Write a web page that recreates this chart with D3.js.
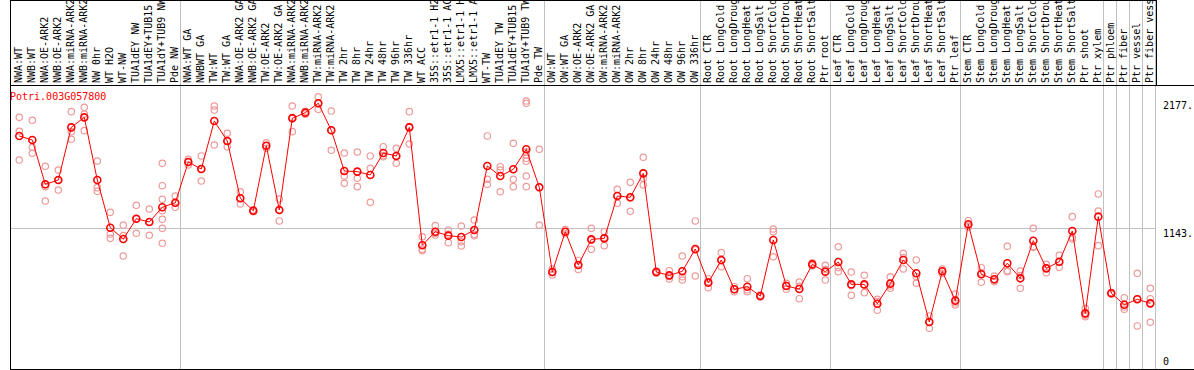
<!DOCTYPE html>
<html>
<head>
<meta charset="utf-8">
<script src="https://cdn.jsdelivr.net/npm/d3@7"></script>
<style>
  body { margin: 0; background: #fff; }
  svg { display: block; }
  text { font-family: "DejaVu Sans Mono", monospace; font-size: 10px; }
</style>
</head>
<body>
<svg width="1194" height="370"></svg>
<script>
// sample names, in column order
const labels = [
  "NWA:WT","NWB:WT","NWA:OE-ARK2","NWB:OE-ARK2","NWA:miRNA-ARK2","NWB:miRNA-ARK2","NW 0hr","WT H2O","WT-NW","TUA1dEY NW","TUA1dEY+TUB15 NW","TUA1dY+TUB9 NW","Pde NW",
  "NWA:WT GA","NWBWT GA","TW:WT","TW:WT GA","NWA:OE-ARK2 GA","NWB:OE-ARK2 GA","TW:OE-ARK2","TW:OE-ARK2 GA","NWA:miRNA-ARK2 GA","NWB:miRNA-ARK2 GA","TW:miRNA-ARK2","TW:miRNA-ARK2 GA","TW 2hr","TW 8hr","TW 24hr","TW 48hr","TW 96hr","TW 336hr","WT ACC","35S::etr1-1 H2O","35S::etr1-1 ACC","LMX5::etr1-1 H2O","LMX5::etr1-1 ACC","WT-TW","TUA1dEY TW","TUA1dEY+TUB15 TW","TUA1dY+TUB9 TW","Pde TW",
  "OW:WT","OW:WT GA","OW:OE-ARK2","OW:OE-ARK2 GA","OW:miRNA-ARK2","OW:miRNA-ARK2 GA","OW 2hr","OW 8hr","OW 24hr","OW 48hr","OW 96hr","OW 336hr",
  "Root CTR","Root LongCold","Root LongDrought","Root LongHeat","Root LongSalt","Root ShortCold","Root ShortDrought","Root ShortHeat","Root ShortSalt","Ptr root",
  "Leaf CTR","Leaf LongCold","Leaf LongDrought","Leaf LongHeat","Leaf LongSalt","Leaf ShortCold","Leaf ShortDrought","Leaf ShortHeat","Leaf ShortSalt","Ptr leaf",
  "Stem CTR","Stem LongCold","Stem LongDrought","Stem LongHeat","Stem LongSalt","Stem ShortCold","Stem ShortDrought","Stem ShortHeat","Stem ShortSalt","Ptr shoot","Ptr xylem",
  "Ptr phloem","Ptr fiber","Ptr vessel","Ptr fiber vessel"
];

// column index where a new group starts (gray separators)
const groupBreaks = [13, 41, 53, 63, 73, 84, 85, 86, 87, 88];

// mean expression per sample
const means = [
  1889,1856,1497,1532,1959,2040,1532,1145,1054,1218,1192,1311,1348,
  1678,1621,2010,1848,1384,1283,1810,1289,2032,2078,2154,1935,1605,1600,1573,1751,1727,1959,1003,1113,1081,1070,1127,1646,1564,1619,1781,1473,
  786,1113,843,1051,1059,1402,1392,1586,786,759,792,973,
  700,884,646,667,592,1046,673,648,848,789,
  867,686,686,529,692,884,776,381,792,554,
  1173,768,727,857,735,1040,816,870,1119,451,1235,
  614,521,565,532
];

// replicate values per sample
const reps = [
  [2040,1927,1694],[2016,1797,1749],[1643,1478,1362],[1613,1532,1451],[2086,1924,1862],[2121,2067,1932],
  [1686,1470,1440],[1270,1094,1059],[1167,1081,916],[1327,1218,1100],[1297,1192,1084],
  [1667,1486,1376,1283,1213,1140,1019],[1402,1343,1311],
  [1700,1678,1654],[1727,1621,1524],[2132,2099,1816],[1911,1848,1802],[1437,1384,1338],[1290,1283,1275],
  [1834,1810,1790],[1378,1289,1200],[2132,2040,1924],[2090,2078,2066],[2207,2150,2105],[2091,1935,1773],
  [1751,1564,1505],[1759,1546,1478],[1727,1627,1351],[1802,1730,1720],[1789,1727,1667],[2086,1965,1824],
  [1072,970,959],[1162,1100,1086],[1127,1092,1024],[1159,1032,997],[1208,1092,1081],[1889,1538,1497],
  [1640,1613,1437],[1830,1538,1478],[2172,2154,1760,1735,1708,1685,1564,1478],[1781,1473,1167],
  [810,786,762],[1130,1113,1096],[880,843,806],[1140,1045,970],[1113,1065,1000],[1456,1407,1343],
  [1513,1386,1278],[1716,1546,1492],[795,786,777],[797,750,730],[916,748,721],[1200,965,754],
  [732,709,659],[943,880,829],[667,645,627],[732,642,627],[600,592,584],[1135,1113,910],
  [695,678,646],[705,670,570],[860,848,836],[840,806,721],
  [991,822,789],[786,676,597],[759,680,619],[565,546,476],[748,673,654],[938,903,811],
  [884,749,695],[430,383,330],[810,792,775],[608,535,519],
  [1202,1165,1152],[821,780,703],[754,720,708],[995,797,789],[794,757,654],[1140,994,986],
  [848,819,781],[921,865,824],[1235,1068,1054],[492,437,424],[1419,1281,1000],
  [620,608],[578,502,484],[776,570,349],[654,570,379]
];

const geneId = "Potri.003G057800";
const yTicks = [2177, 1143, 0];

const svg = d3.select("svg");
const headerH = 85;
const bottom = 369;

const x = d3.scaleBand().domain(d3.range(labels.length)).range([11, 1155]).padding(0);
const y = d3.scaleLinear().domain([0, 1143]).range([bottom, 228]);
const px = i => x(i) + 8.3;

// gridline at the middle tick
svg.append("line")
  .attr("x1", 10).attr("x2", x.range()[1] + 0.5)
  .attr("y1", Math.round(y(1143)) + 0.5).attr("y2", Math.round(y(1143)) + 0.5)
  .attr("stroke", "#c0c0c0");

// group separators
svg.append("g").selectAll("line")
  .data(groupBreaks)
  .join("line")
  .attr("x1", d => x(d - 1) + x.bandwidth() + 0.5)
  .attr("x2", d => x(d - 1) + x.bandwidth() + 0.5)
  .attr("y1", 0).attr("y2", bottom)
  .attr("stroke", "#c0c0c0");

// header labels
svg.append("clipPath").attr("id", "hdr")
  .append("rect").attr("x", 0).attr("y", 1).attr("width", 1194).attr("height", headerH - 1);

svg.append("g").attr("clip-path", "url(#hdr)")
  .selectAll("text")
  .data(labels)
  .join("text")
  .attr("transform", (d, i) => "translate(" + (x(i) + 11) + "," + (headerH - 2) + ") rotate(-90)")
  .attr("fill", "#000")
  .text(d => d);

// borders
svg.append("line").attr("x1", 10.5).attr("x2", 10.5).attr("y1", 0).attr("y2", 370).attr("stroke", "#000");
svg.append("line").attr("x1", 10).attr("x2", 1157).attr("y1", 0.5).attr("y2", 0.5).attr("stroke", "#000");
svg.append("line").attr("x1", 1156.5).attr("x2", 1156.5).attr("y1", 0).attr("y2", headerH).attr("stroke", "#000");
svg.append("line").attr("x1", 10).attr("x2", 1194).attr("y1", headerH + 0.5).attr("y2", headerH + 0.5).attr("stroke", "#000");
svg.append("line").attr("x1", 10).attr("x2", 1194).attr("y1", bottom + 0.5).attr("y2", bottom + 0.5).attr("stroke", "#000");

// replicates
const repPts = [];
reps.forEach((r, i) => r.forEach(v => repPts.push({ i: i, v: v })));
svg.append("g").selectAll("circle")
  .data(repPts)
  .join("circle")
  .attr("cx", d => px(d.i))
  .attr("cy", d => y(d.v))
  .attr("r", 3.2)
  .attr("fill", "none")
  .attr("stroke", "#ee9a9a")
  .attr("stroke-width", 1.2);

// mean line
const line = d3.line().x((d, i) => px(i)).y(d => y(d));
svg.append("path")
  .datum(means)
  .attr("d", line)
  .attr("fill", "none")
  .attr("stroke", "#ff0000")
  .attr("stroke-width", 1);

svg.append("g").selectAll("circle")
  .data(means)
  .join("circle")
  .attr("cx", (d, i) => px(i))
  .attr("cy", d => y(d))
  .attr("r", 3.5)
  .attr("fill", "none")
  .attr("stroke", "#ff0000")
  .attr("stroke-width", 1.6);

// gene id
svg.append("text")
  .attr("x", 10).attr("y", 100)
  .attr("fill", "#ff0000")
  .text(geneId);

// value labels on the right
svg.append("g").selectAll("text")
  .data(yTicks)
  .join("text")
  .attr("x", 1163)
  .attr("y", d => d === 0 ? bottom - 4 : y(d) + 9)
  .attr("fill", "#000")
  .text(d => d === 0 ? "0" : d + ".");
</script>
</body>
</html>
